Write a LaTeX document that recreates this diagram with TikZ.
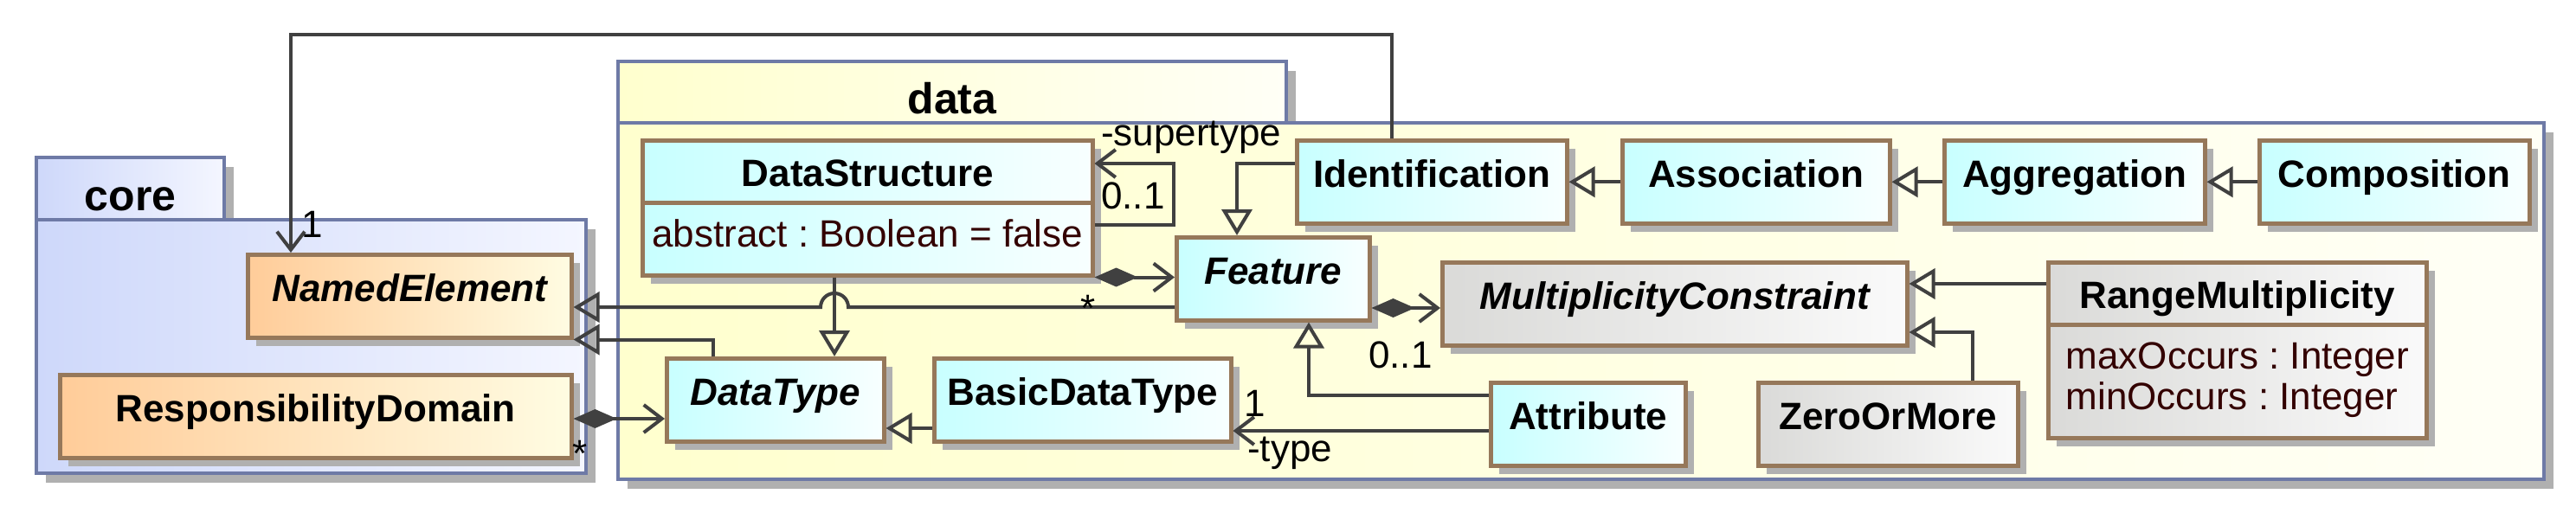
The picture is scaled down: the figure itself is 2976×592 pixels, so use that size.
\documentclass[tikz,border=0pt]{standalone}
\usepackage{fontspec}
\setmainfont{Liberation Sans}
\usetikzlibrary{arrows.meta,shadows}
\definecolor{clsborder}{RGB}{150,120,90}
\definecolor{pkgborder}{RGB}{110,122,166}
\definecolor{linegrey}{RGB}{64,64,64}
\definecolor{shadowgrey}{RGB}{176,176,176}
\definecolor{cyanfill}{RGB}{200,255,255}
\definecolor{cyanlight}{RGB}{248,255,255}
\definecolor{orangefill}{RGB}{255,204,153}
\definecolor{creamfill}{RGB}{255,252,226}
\definecolor{greyfill}{RGB}{218,218,216}
\definecolor{greylight}{RGB}{250,250,250}
\definecolor{corefill}{RGB}{206,216,250}
\definecolor{corelight}{RGB}{244,246,255}
\definecolor{datafill}{RGB}{255,255,206}
\definecolor{datalight}{RGB}{255,255,246}
\definecolor{attrtext}{RGB}{51,0,0}
\newcommand{\umlfont}{\fontsize{44}{47}\selectfont\frenchspacing}
\newcommand{\pkgfont}{\bfseries\fontsize{50}{55}\selectfont}
\tikzset{
	pkg/.style={draw=pkgborder, line width=4pt, anchor=north west, inner sep=0pt, font=\pkgfont, drop shadow={shadow xshift=11pt, shadow yshift=-11pt, fill=shadowgrey, opacity=1}},
	corepkg/.style={pkg, left color=corefill, right color=corelight},
	datapkg/.style={pkg, left color=datafill, right color=datalight},
	cls/.style={draw=clsborder, line width=4.5pt, anchor=north west, inner xsep=6pt, inner ysep=0pt, text height=54pt, text depth=42pt, minimum height=96pt, font=\bfseries\umlfont, drop shadow={shadow xshift=10pt, shadow yshift=-10pt, fill=shadowgrey, opacity=1}},
	datacls/.style={cls, left color=cyanfill, right color=cyanlight},
	corecls/.style={cls, left color=orangefill, right color=creamfill},
	mulcls/.style={cls, left color=greyfill, right color=greylight},
	abstract/.style={font=\bfseries\itshape\umlfont},
	head/.style={text height=53pt, text depth=19pt, minimum height=72pt},
	attrs/.style={font=\umlfont, text=attrtext, align=left, inner xsep=4pt, text height=51pt},
	role/.style={font=\umlfont, inner sep=0pt},
	line/.style={draw=linegrey, line width=4pt},
	gen/.style={line, -{Triangle[open, length=30pt, width=35pt]}},
	navi/.style={line, -{Straight Barb[length=21pt, width=32pt]}},
	comp/.style={line, {Diamond[length=50pt, width=22pt]}-{Straight Barb[length=21pt, width=32pt]}}
}
\begin{document}
\begin{tikzpicture}[x=1pt, y=-1pt]
	\useasboundingbox (0,0) rectangle (2976,592);
	\node[corepkg, minimum width=217pt, minimum height=72pt, text height=61pt, text depth=11pt] (coretab) at (40,180) {core};
	\node[corepkg, minimum width=635pt, minimum height=293pt] (corebody) at (40,252) {};
	\node[datapkg, minimum width=772pt, minimum height=71pt, text height=60pt, text depth=11pt] (datatab) at (712,69) {data};
	\node[datapkg, minimum width=2225pt, minimum height=412pt] (databody) at (712,140) {};

	\node[corecls, abstract, minimum width=374pt] (named) at (284,292) {NamedElement};
	\node[corecls, minimum width=591pt] (resp) at (67,431) {ResponsibilityDomain};

	\node[datacls, head, minimum width=520pt] (dshead) at (740,160) {DataStructure};
	\node[datacls, attrs, minimum width=520pt, text depth=33pt, minimum height=84pt] (dsattr) at (740,232) {abstract : Boolean = false};
	\node[datacls, minimum width=312pt] (ident) at (1496,160) {Identification};
	\node[datacls, minimum width=309pt] (assoc) at (1872,160) {Association};
	\node[datacls, minimum width=301pt] (aggr) at (2244,160) {Aggregation};
	\node[datacls, minimum width=312pt] (compo) at (2608,160) {Composition};
	\node[datacls, abstract, minimum width=223pt] (feat) at (1357,272) {Feature};
	\node[mulcls, abstract, minimum width=537pt] (mult) at (1664,301) {MultiplicityConstraint};
	\node[mulcls, head, minimum width=437pt] (rmhead) at (2364,301) {RangeMultiplicity};
	\node[mulcls, attrs, minimum width=437pt, text height=98pt, text depth=33pt, minimum height=131pt] (rmattr) at (2364,373) {maxOccurs : Integer\\minOccurs : Integer};
	\node[datacls, abstract, minimum width=251pt] (dtype) at (768,412) {DataType};
	\node[datacls, minimum width=343pt] (bdt) at (1077,412) {BasicDataType};
	\node[datacls, minimum width=225pt] (attr) at (1720,440) {Attribute};
	\node[mulcls, minimum width=300pt] (zero) at (2029,440) {ZeroOrMore};

	\coordinate (idtop) at (1608,40);
	\coordinate (netop) at (336,40);
	\coordinate (idbend) at (1429,189);
	\coordinate (loopa) at (1356,189);
	\coordinate (loopb) at (1356,260);
	\coordinate (hop) at (964,355);
	\coordinate (dtbend) at (824,388);
	\coordinate (rsline) at (700,484);
	\coordinate (bdline) at (1050,495);
	\coordinate (atline) at (1600,498);
	\coordinate (atbend) at (1512,457);
	\coordinate (fmline) at (1620,356);
	\coordinate (rmline) at (2280,328);
	\coordinate (zmbend) at (2279,384);

	\draw[navi] (ident.north -| idtop) |- (netop) -- (netop |- named.north);
	\draw[gen] (ident.west |- idbend) -- (idbend) -- (idbend |- feat.north);
	\foreach \a/\b in {assoc/ident, aggr/assoc, compo/aggr}
		\draw[gen] (\a.west) -- (\b.east);
	\draw[navi] (dsattr.east |- loopb) -- (loopb) -- (loopa) -- (dshead.east |- loopa);
	\draw[comp] (dsattr.south east) -- (dsattr.south east -| feat.west);
	\draw[gen] (feat.west |- hop) -- ([xshift=16pt]hop) arc[start angle=0, end angle=180, radius=16pt] -- (hop -| named.east);
	\draw[gen] (dsattr.south -| hop) -- (dtype.north -| hop);
	\draw[gen] (dtype.north -| dtbend) |- (named.south east);
	\draw[comp] (resp.east |- rsline) -- (dtype.west |- rsline);
	\draw[gen] (bdt.west |- bdline) -- (dtype.east |- bdline);
	\draw[navi] (attr.west |- atline) -- (bdt.east |- atline);
	\draw[gen] (attr.west |- atbend) -| (feat.south -| atbend);
	\draw[comp] (feat.east |- fmline) -- (mult.west |- fmline);
	\draw[gen] (rmhead.west |- rmline) -- (mult.east |- rmline);
	\draw[gen] (zero.north -| zmbend) |- (mult.east |- zmbend);

	\node[role, anchor=base] (nemult) at (361,274) {1};
	\node[role, anchor=base] (rdmult) at (670,539) {*};
	\node[role, anchor=base west] (suprole) at (1272,168) {-supertype};
	\node[role, anchor=base west] (supmult) at (1272,241) {0..1};
	\node[role, anchor=base] (featmult) at (1257,371) {*};
	\node[role, anchor=base west] (mcmult) at (1581,425) {0..1};
	\node[role, anchor=base] (typemult) at (1450,481) {1};
	\node[role, anchor=base west] (typerole) at (1441,533) {-type};
\end{tikzpicture}
\end{document}
